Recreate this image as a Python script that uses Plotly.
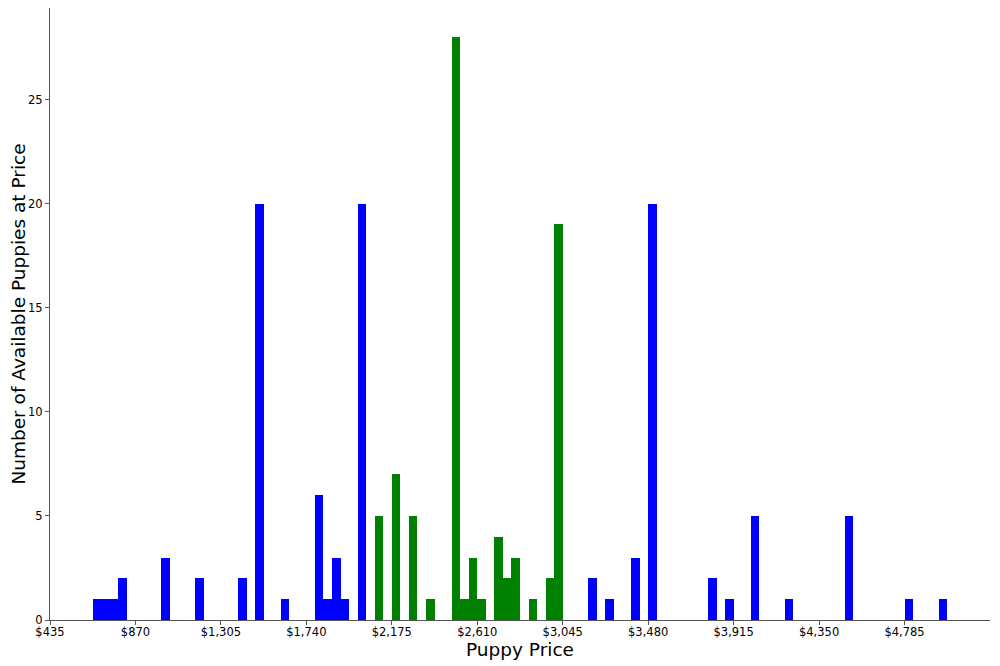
import plotly.graph_objects as go

# Histogram bins (bin centres, $) and counts
bin_centers = [674.25, 717.75, 761.25, 804.75, 1022.25, 1196.25, 1413.75, 1500.75,
               1631.25, 1805.25, 1848.75, 1892.25, 1935.75, 2022.75,
               2109.75, 2196.75, 2283.75, 2370.75, 2501.25, 2544.75, 2588.25,
               2631.75, 2718.75, 2762.25, 2805.75, 2892.75, 2979.75, 3023.25,
               3197.25, 3284.25, 3414.75, 3501.75, 3806.25, 3893.25, 4023.75,
               4197.75, 4502.25, 4806.75, 4980.75]
counts = [1, 1, 1, 2, 3, 2, 2, 20,
          1, 6, 1, 3, 1, 20,
          5, 7, 5, 1, 28, 1, 3,
          1, 4, 2, 3, 1, 2, 19,
          2, 1, 3, 20, 2, 1, 5,
          1, 5, 1, 1]
groups = ["out"] * 14 + ["mid"] * 14 + ["out"] * 11
bin_width = 43.5
x_ticks = [435, 870, 1305, 1740, 2175, 2610, 3045, 3480, 3915, 4350, 4785]
x_range = [435, 5220]
y_range = [0, 29.4]

color_map = {"out": "#0000ff", "mid": "#008000"}
colors = [color_map[g] for g in groups]

fig = go.Figure(go.Bar(
    x=bin_centers, y=counts, width=[bin_width] * len(bin_centers),
    marker=dict(color=colors, line=dict(width=0)),
    hoverinfo="x+y",
))

axis_font = dict(family="DejaVu Sans", size=11.5, color="#000")
fig.update_layout(
    width=992, height=658,
    margin=dict(l=42, r=10, t=0, b=46, autoexpand=False),
    plot_bgcolor="white", paper_bgcolor="white",
    showlegend=False, bargap=0,
    font=dict(family="DejaVu Sans", color="#000"),
    xaxis=dict(
        range=x_range, tickvals=x_ticks,
        ticktext=[f"${v:,}" for v in x_ticks],
        ticks="outside", ticklen=4, tickcolor="#555",
        showline=True, linecolor="#555", linewidth=1,
        showgrid=False, zeroline=False, tickfont=axis_font, automargin=False,
        ticklabelstandoff=-3,
        title=dict(text="Puppy Price", font=dict(size=18.5), standoff=0),
    ),
    yaxis=dict(
        range=y_range, tickvals=[0, 5, 10, 15, 20, 25],
        ticks="outside", ticklen=4, tickcolor="#555",
        showline=True, linecolor="#555", linewidth=1,
        showgrid=False, zeroline=False, tickfont=axis_font, automargin=False,
        title=dict(text="Number of Available Puppies at Price", font=dict(size=18.5), standoff=4),
    ),
)

fig.write_html("out.html")
